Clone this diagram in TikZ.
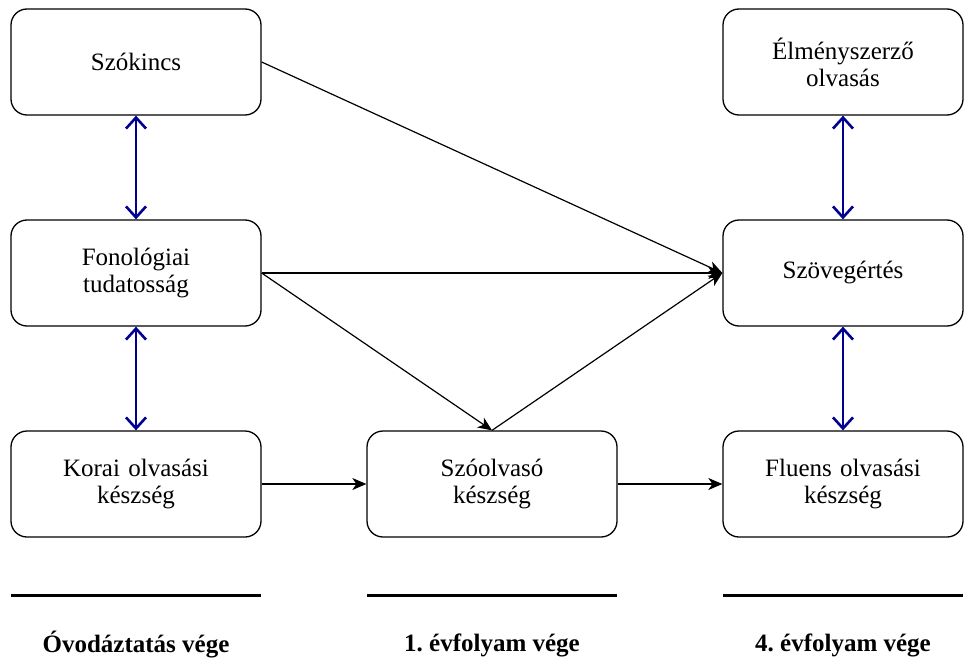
\documentclass[tikz,border=0pt]{standalone}
\usepackage{fontspec}
\setmainfont{Liberation Serif}
\usetikzlibrary{arrows.meta}
\definecolor{linkblue}{RGB}{0,0,145}
\frenchspacing
\tikzset{
  box/.style={draw=black, line width=1.3pt, rounded corners=16pt, minimum height=106pt, inner sep=2pt, align=center, font=\fontsize{25}{27}\selectfont},
  leftbox/.style={box, minimum width=250pt, text width=236pt},
  rightbox/.style={box, minimum width=240pt, text width=226pt},
  flow/.style={draw=black, line width=1.2pt, -{Stealth[length=14pt,width=12pt,inset=4pt]}},
  twoway/.style={draw=linkblue, line width=2.6pt, {Straight Barb[length=11pt,width=20pt]}-{Straight Barb[length=11pt,width=20pt]}},
  stage/.style={draw=black, line width=3pt},
  stagelabel/.style={font=\fontsize{25}{27}\selectfont\bfseries}
}
\begin{document}
\begin{tikzpicture}[x=1pt,y=-1pt]
\useasboundingbox (0,0) rectangle (964,661);
\node[leftbox] (szokincs) at (136,62) {Szókincs};
\node[leftbox] (fonol) at (136,273) {Fonológiai\\tudatosság};
\node[leftbox] (korai) at (136,484) {Korai olvasási\\készség};
\node[leftbox] (szoolv) at (492,484) {Szóolvasó\\készség};
\node[rightbox] (elmeny) at (843,62) {Élményszerző\\olvasás};
\node[rightbox] (szoveg) at (843,273) {Szövegértés};
\node[rightbox] (fluens) at (843,484) {Fluens olvasási\\készség};

\draw[flow] (szokincs.east) -- (szoveg.west);
\draw[flow] (fonol.east) -- (szoveg.west);
\draw[flow] (fonol.east) -- (szoolv.north);
\draw[flow] (szoolv.north) -- (szoveg.west);
\draw[flow] (korai.east) -- (szoolv.west);
\draw[flow] (szoolv.east) -- (fluens.west);

\draw[twoway] (szokincs.south) -- (fonol.north);
\draw[twoway] (fonol.south) -- (korai.north);
\draw[twoway] (elmeny.south) -- (szoveg.north);
\draw[twoway] (szoveg.south) -- (fluens.north);

\coordinate (s1a) at (11,595); \coordinate (s1b) at (261,595);
\coordinate (s2a) at (367,595); \coordinate (s2b) at (617,595);
\coordinate (s3a) at (723,595); \coordinate (s3b) at (963,595);
\draw[stage] (s1a) -- (s1b);
\draw[stage] (s2a) -- (s2b);
\draw[stage] (s3a) -- (s3b);
\node[stagelabel] (lab1) at (136,645) {Óvodáztatás vége};
\node[stagelabel] (lab2) at (492,645) {1. évfolyam vége};
\node[stagelabel] (lab3) at (843,645) {4. évfolyam vége};
\end{tikzpicture}
\end{document}
